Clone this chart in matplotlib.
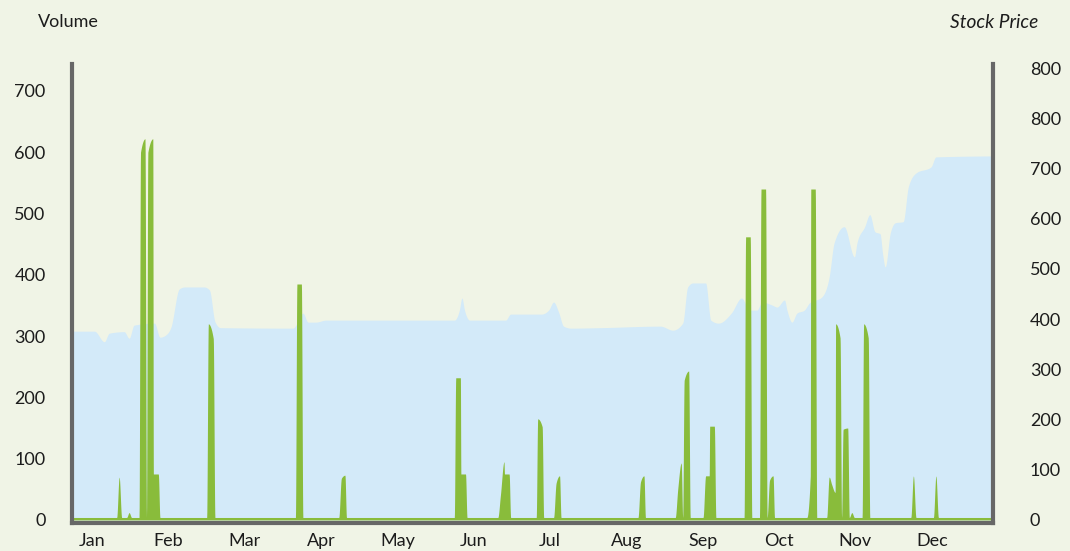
import numpy as np
import matplotlib
matplotlib.use('Agg')
import matplotlib.pyplot as plt
import calendar

plt.rcParams['font.family'] = ['Lato', 'DejaVu Sans']

YEAR = 2023
MONTHS = ['Jan', 'Feb', 'Mar', 'Apr', 'May', 'Jun', 'Jul', 'Aug', 'Sep', 'Oct', 'Nov', 'Dec']

# Daily trading volume: days not listed sit at the baseline level
VOLUME_BASE = 4
volume_dates = ['01-20', '01-24', '01-29', '01-30', '02-01', '02-02', '02-03', '02-04',
                '02-23', '02-24', '03-30', '03-31', '04-16', '04-17',
                '06-01', '06-02', '06-03', '06-04', '06-18', '06-19', '06-20', '06-21',
                '07-03', '07-04', '07-10', '07-11', '08-13', '08-14', '08-28', '08-29',
                '08-31', '09-01', '09-08', '09-09', '09-10', '09-11', '09-24', '09-25',
                '09-30', '10-01', '10-03', '10-04', '10-19', '10-20', '10-21',
                '10-27', '10-28', '10-29', '10-30', '10-31', '11-02', '11-03', '11-05',
                '11-10', '11-11', '11-29', '12-08']
volume_values = [70, 12, 600, 622, 600, 622, 75, 75,
                 320, 296, 385, 385, 68, 73,
                 232, 232, 75, 75, 40, 95, 75, 75,
                 165, 152, 60, 72, 62, 72, 50, 93,
                 228, 243, 72, 72, 153, 153, 462, 462,
                 540, 540, 65, 72, 72, 540, 540,
                 70, 58, 45, 320, 297, 148, 150, 12,
                 320, 297, 72, 72]

# Stock price readings
price_dates = ['01-01', '01-10', '01-14', '01-16', '01-22', '01-24', '01-26', '02-03',
               '02-05', '02-07', '02-09', '02-12', '02-14', '02-21', '02-23', '02-25',
               '02-27', '03-28', '03-30', '04-01', '04-03', '04-06', '04-10', '05-31',
               '06-02', '06-03', '06-04', '06-06', '06-20', '06-22', '07-04', '07-07',
               '07-09', '07-11', '07-13', '07-16', '07-28', '08-21', '08-26', '08-30',
               '09-01', '09-03', '09-08', '09-10', '09-13', '09-18', '09-22', '09-25',
               '09-28', '09-30', '10-04', '10-06', '10-09', '10-10', '10-12', '10-14',
               '10-17', '10-19', '10-24', '10-27', '10-29', '11-02', '11-06', '11-07',
               '11-10', '11-12', '11-14', '11-16', '11-17', '11-18', '11-20', '11-22',
               '11-25', '11-27', '11-30', '12-06', '12-08', '12-31']
price_values = [376, 376, 355, 372, 375, 362, 388, 392,
                364, 368, 384, 460, 464, 464, 458, 395,
                383, 382, 395, 412, 394, 394, 398, 398,
                418, 442, 418, 398, 398, 410, 410, 418,
                434, 414, 386, 382, 383, 386, 378, 392,
                464, 472, 472, 398, 392, 412, 442, 418,
                418, 434, 428, 424, 438, 418, 394, 412,
                418, 432, 444, 484, 552, 584, 524, 552,
                584, 608, 574, 570, 530, 504, 572, 592,
                594, 663, 691, 703, 723, 725]

vol_ticks = [0, 100, 200, 300, 400, 500, 600, 700]
price_ticks = [0, 100, 200, 300, 400, 500, 600, 700, 800, 900]
price_tick_labels = ['0', '100', '200', '300', '400', '500', '600', '700', '800', '800']

BG = '#f0f4e6'
BLUE = '#d3eaf9'
GREEN = '#89bc3b'
GRAY = '#676767'
TXT = '#1c1c1c'


def month_pos(mmdd):
    m, d = (int(v) for v in mmdd.split('-'))
    n = calendar.monthrange(YEAR, m)[1]
    return (m - 1) + (d - 1) / n, 1.0 / n


def monotone(x, y, n=12):
    x = np.asarray(x, float)
    y = np.asarray(y, float)
    h = np.diff(x)
    s = np.diff(y) / h
    t = np.zeros_like(y)
    sg = lambda v: -1.0 if v < 0 else 1.0
    for i in range(1, len(y) - 1):
        h0, h1, s0, s1 = h[i - 1], h[i], s[i - 1], s[i]
        p = (s0 * h1 + s1 * h0) / (h0 + h1)
        t[i] = (sg(s0) + sg(s1)) * min(abs(s0), abs(s1), 0.5 * abs(p))
    t[0] = (3 * s[0] - t[1]) / 2
    t[-1] = (3 * s[-1] - t[-2]) / 2
    xs, ys = [], []
    u = np.linspace(0, 1, n, endpoint=False)
    for i in range(len(h)):
        h00 = 2 * u**3 - 3 * u**2 + 1
        h10 = u**3 - 2 * u**2 + u
        h01 = -2 * u**3 + 3 * u**2
        h11 = u**3 - u**2
        xs.append(x[i] + u * h[i])
        ys.append(h00 * y[i] + h10 * h[i] * t[i] + h01 * y[i + 1] + h11 * h[i] * t[i + 1])
    xs.append([x[-1]])
    ys.append([y[-1]])
    return np.concatenate(xs), np.concatenate(ys)


# build daily volume series
days = []
for m in range(1, 13):
    for d in range(1, calendar.monthrange(YEAR, m)[1] + 1):
        days.append(f'{m:02d}-{d:02d}')
vol_map = dict(zip(volume_dates, volume_values))
vol_y = [vol_map.get(d, VOLUME_BASE) for d in days]
vol_pos = [month_pos(d) for d in days]
N = len(vol_y)


def sharp(a, b):
    """transition from a (day i) to b (day i+1) drawn as a near-vertical edge"""
    if max(a, b) <= 1.2 * min(a, b) or abs(a - b) <= 15:
        return False
    return a > b or (b - a) > 75


is_base = [v <= 2 * VOLUME_BASE for v in vol_y]
edge = [sharp(vol_y[i], vol_y[i + 1]) for i in range(N - 1)]

kx, ky = [], []
for i, v in enumerate(vol_y):
    x, w = vol_pos[i]
    if is_base[i]:
        kx.append(x); ky.append(v)
        continue
    left = i > 0 and edge[i - 1]
    right = i < N - 1 and edge[i]
    # isolated small spikes stay as needles
    if i > 0 and i < N - 1 and is_base[i - 1] and is_base[i + 1] and v < 100:
        kx.append(x); ky.append(v)
        continue
    if left:
        kx.append(x - 0.4 * w); ky.append(v)
    if right:
        kx.append(x + 0.4 * w); ky.append(v)
    if not left and not right:
        kx.append(x); ky.append(v)

vx, vy = monotone(kx, ky, 10)
vy = np.clip(vy, 0, None)

px_, py_ = monotone([month_pos(d)[0] for d in price_dates], price_values, 16)

fig = plt.figure(figsize=(10.7, 5.51), dpi=100, facecolor=BG)
ax = fig.add_axes([72 / 1070, 28 / 551, 921 / 1070, 459 / 551])
ax2 = ax.twinx()
ax.set_zorder(ax2.get_zorder() + 1)
ax.patch.set_visible(False)
ax2.patch.set_facecolor(BG)

ax2.fill_between(px_, 0, py_, color=BLUE, lw=0)
ax.fill_between(vx, 0, vy, color=GREEN, lw=0)

xmax = month_pos('12-31')[0]
ax.set_xlim(0, xmax)
ax.set_ylim(-5, 744)
ax2.set_ylim(-6, 908)

ax.set_yticks(vol_ticks)
ax.set_yticklabels([str(v) for v in vol_ticks])
ax2.set_yticks(price_ticks)
ax2.set_yticklabels(price_tick_labels)

label_pos = [0.26 + 0.992 * k for k in range(12)]
ax.set_xticks(label_pos)
ax.set_xticklabels(MONTHS)

ax.tick_params(axis='y', length=0, pad=19, labelsize=13, labelcolor=TXT)
ax.tick_params(axis='x', length=0, pad=7, labelsize=13, labelcolor=TXT)
ax2.tick_params(axis='y', length=0, pad=26.5, labelsize=13, labelcolor=TXT)

for sp in ax2.spines.values():
    sp.set_visible(False)
ax.spines['top'].set_visible(False)
for k in ['left', 'right', 'bottom']:
    ax.spines[k].set_color(GRAY)
    ax.spines[k].set_linewidth(3)

fig.text(37.5 / 1070, 1 - 22 / 551, 'Volume', ha='left', va='center', fontsize=13, color=TXT)
fig.text(1038 / 1070, 1 - 22 / 551, 'Stock Price', ha='right', va='center', fontsize=13.8,
         color=TXT, style='italic')

fig.savefig('out.png', dpi=100, facecolor=BG)
